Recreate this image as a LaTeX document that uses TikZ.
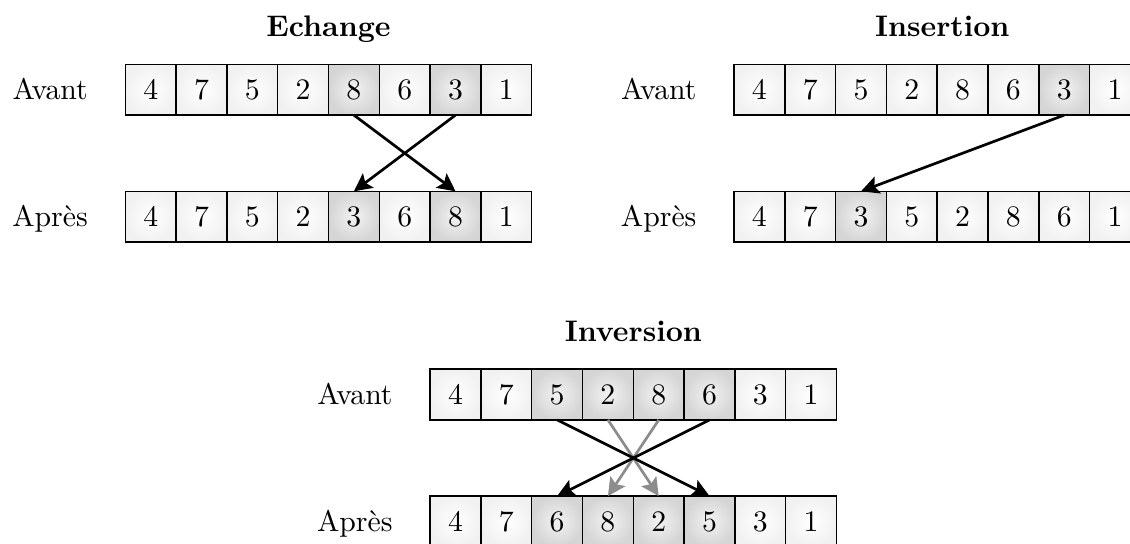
\documentclass[tikz,border=0pt]{standalone}
\usetikzlibrary{arrows.meta,calc}

% one row of eight numbered cells: #1 name prefix, #2 left edge, #3 row centre,
% #4 list of value/style pairs
\newcommand\drawrow[4]{%
  \foreach \v/\s [count=\i from 0] in {#4}{%
    \node[\s] (#1\i) at ({#2+0.5+\i},#3) {\v};%
  }%
}

\tikzset{
  numbox/.style={draw, line width=0.5pt, minimum size=0.6cm, inner sep=0pt,
                 outer sep=0pt, inner color=white, outer color=gray!11},
  hlbox/.style={numbox, inner color=gray!10, outer color=gray!33},
  rowlabel/.style={anchor=base east, inner sep=0pt},
  title/.style={anchor=base, inner sep=0pt, font=\bfseries},
  mv/.style={line width=0.9pt, -{Stealth[length=6pt,width=6pt,inset=1.2pt]}},
  mvgray/.style={mv, draw=black!45},
}

\begin{document}
\begin{tikzpicture}[x=0.6cm, y=-0.6cm]
  \clip (0,0) rectangle (22.244,10.689);

  % Echange
  \drawrow{EA}{2.467}{1.766}{4/numbox,7/numbox,5/numbox,2/numbox,8/hlbox,6/numbox,3/hlbox,1/numbox}
  \drawrow{EP}{2.467}{4.266}{4/numbox,7/numbox,5/numbox,2/numbox,3/hlbox,6/numbox,8/hlbox,1/numbox}
  \node[title] (tE) at ($(EA3.east)+(0,-1.038)$) {Echange};
  \node[rowlabel] (lEA) at ($(EA0.west)+(-0.728,0.19)$) {Avant};
  \node[rowlabel] (lEP) at ($(EP0.west)+(-0.728,0.19)$) {Après};
  \draw[mv] (EA4.south) -- (EP6.north);
  \draw[mv] (EA6.south) -- (EP4.north);

  % Insertion
  \drawrow{IA}{14.449}{1.766}{4/numbox,7/numbox,5/numbox,2/numbox,8/numbox,6/numbox,3/hlbox,1/numbox}
  \drawrow{IP}{14.449}{4.266}{4/numbox,7/numbox,3/hlbox,5/numbox,2/numbox,8/numbox,6/numbox,1/numbox}
  \node[title] (tI) at ($(IA3.east)+(0.1,-1.038)$) {Insertion};
  \node[rowlabel] (lIA) at ($(IA0.west)+(-0.728,0.19)$) {Avant};
  \node[rowlabel] (lIP) at ($(IP0.west)+(-0.728,0.19)$) {Après};
  \draw[mv] (IA6.south) -- (IP2.north);

  % Inversion
  \drawrow{VA}{8.467}{7.766}{4/numbox,7/numbox,5/hlbox,2/hlbox,8/hlbox,6/hlbox,3/numbox,1/numbox}
  \drawrow{VP}{8.467}{10.266}{4/numbox,7/numbox,6/hlbox,8/hlbox,2/hlbox,5/hlbox,3/numbox,1/numbox}
  \node[title] (tV) at ($(VA3.east)+(0,-1.038)$) {Inversion};
  \node[rowlabel] (lVA) at ($(VA0.west)+(-0.728,0.19)$) {Avant};
  \node[rowlabel] (lVP) at ($(VP0.west)+(-0.728,0.19)$) {Après};
  \draw[mvgray] (VA3.south) -- (VP4.north);
  \draw[mvgray] (VA4.south) -- (VP3.north);
  \draw[mv] (VA2.south) -- (VP5.north);
  \draw[mv] (VA5.south) -- (VP2.north);
\end{tikzpicture}
\end{document}
